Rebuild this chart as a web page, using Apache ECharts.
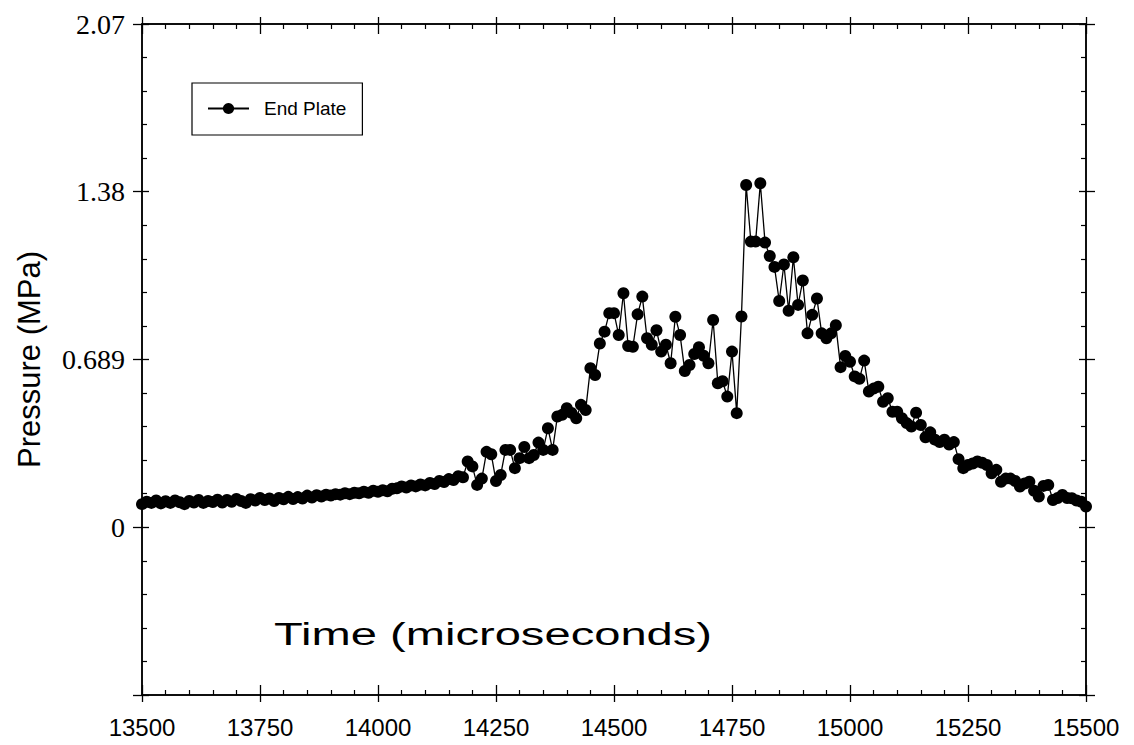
<!DOCTYPE html>
<html>
<head>
<meta charset="utf-8">
<script src="https://cdn.jsdelivr.net/npm/echarts@6/dist/echarts.min.js"></script>
<style>
html,body{margin:0;padding:0;background:#fff;}
#chart{width:1134px;height:745px;}
</style>
</head>
<body>
<div id="chart"></div>
<script>
// ---- data ----
const seriesName = 'End Plate';
const startTime = 13500;   // microseconds
const timeStep = 10;       // sampling step, microseconds
const pressure = [
  0.095,0.105,0.100,0.110,0.098,0.107,0.100,0.110,0.103,0.095,
  0.108,0.102,0.112,0.100,0.108,0.104,0.113,0.102,0.112,0.105,
  0.116,0.108,0.100,0.115,0.110,0.120,0.112,0.118,0.108,0.120,
  0.115,0.125,0.116,0.124,0.118,0.130,0.122,0.132,0.126,0.134,
  0.130,0.136,0.134,0.140,0.136,0.142,0.140,0.146,0.142,0.150,
  0.146,0.152,0.148,0.158,0.160,0.168,0.163,0.172,0.168,0.176,
  0.172,0.182,0.178,0.190,0.186,0.198,0.194,0.210,0.205,0.270,
  0.250,0.174,0.200,0.310,0.300,0.190,0.215,0.318,0.318,0.243,
  0.284,0.330,0.284,0.297,0.348,0.318,0.407,0.318,0.455,0.462,
  0.489,0.470,0.448,0.503,0.482,0.654,0.626,0.755,0.804,0.880,
  0.880,0.790,0.962,0.745,0.742,0.875,0.948,0.777,0.750,0.810,
  0.722,0.750,0.674,0.865,0.790,0.642,0.667,0.712,0.740,0.705,
  0.674,0.852,0.592,0.600,0.537,0.722,0.469,0.866,1.407,1.174,
  1.174,1.414,1.170,1.115,1.070,0.930,1.080,0.890,1.110,0.914,
  1.014,0.797,0.873,0.940,0.797,0.777,0.797,0.830,0.658,0.704,
  0.680,0.620,0.610,0.685,0.558,0.570,0.578,0.516,0.530,0.475,
  0.475,0.448,0.428,0.414,0.471,0.420,0.370,0.390,0.360,0.350,
  0.360,0.340,0.350,0.280,0.243,0.256,0.262,0.270,0.265,0.256,
  0.222,0.236,0.187,0.200,0.200,0.190,0.167,0.180,0.187,0.150,
  0.126,0.170,0.174,0.112,0.120,0.133,0.120,0.119,0.110,0.105,
  0.085
];
const xMin = 13500, xMax = 15500, xStep = 250;
const yStep = 0.6895;                 // 100 psi in MPa
const yMin = -0.6895, yMax = 2.0685;
const yTickLabels = ['', '0', '0.689', '1.38', '2.07'];
const xTitle = 'Time (microseconds)';
const yTitle = 'Pressure (MPa)';

// ---- build ----
const times = pressure.map((_, i) => startTime + timeStep * i);
const points = pressure.map((v, i) => [times[i], v]);

const chart = echarts.init(document.getElementById('chart'), null, {renderer: 'svg'});

const axisLine = {show: true, onZero: false, lineStyle: {color: '#000', width: 1.5}};
function xAx(pos, inside, labels) {
  return {
    type: 'value', position: pos, min: xMin, max: xMax, interval: xStep,
    axisLine: axisLine,
    axisTick: {show: true, inside: inside, length: inside ? 10 : 7, lineStyle: {color: '#000', width: 1.3}},
    minorTick: {show: inside, splitNumber: 5, length: 5, lineStyle: {color: '#000', width: 1.2}},
    splitLine: {show: false}, minorSplitLine: {show: false},
    axisLabel: labels ? {show: true, margin: 20, color: '#000', fontFamily: 'Liberation Sans', fontSize: 24,
      formatter: v => String(Math.round(v))} : {show: false}
  };
}
function yAx(pos, inside, labels) {
  return {
    type: 'value', position: pos, min: yMin, max: yMax, interval: yStep,
    axisLine: axisLine,
    axisTick: {show: true, inside: inside, length: inside ? 7 : 9, lineStyle: {color: '#000', width: 1.3}},
    minorTick: {show: inside, splitNumber: 5, length: 5, lineStyle: {color: '#000', width: 1.2}},
    splitLine: {show: false}, minorSplitLine: {show: false},
    axisLabel: labels ? {
      show: true, margin: 17, color: '#000', fontFamily: 'Liberation Serif', fontSize: 28,
      formatter: v => yTickLabels[Math.round(v / yStep) + 1] || ''
    } : {show: false},
    name: labels ? yTitle : '',
    nameLocation: 'middle', nameGap: 97, nameRotate: 90,
    nameTextStyle: {color: '#000', fontFamily: 'Liberation Sans', fontSize: 31}
  };
}

chart.setOption({
  backgroundColor: '#fff',
  animation: false,
  grid: {left: 142, right: 48, top: 24, bottom: 50, containLabel: false},
  xAxis: [xAx('bottom', false, true), xAx('bottom', true, false), xAx('top', false, false), xAx('top', true, false)],
  yAxis: [yAx('left', false, true), yAx('left', true, false), yAx('right', false, false), yAx('right', true, false)],
  legend: {
    show: true, left: 192, top: 83, orient: 'vertical',
    borderColor: '#000', borderWidth: 1.2, padding: [16, 16, 17, 15],
    itemWidth: 41, itemHeight: 14,
    textStyle: {color: '#000', fontFamily: 'Liberation Sans', fontSize: 19, padding: [0, 0, 0, 10]},
    data: [seriesName]
  },
  graphic: [{
    type: 'text', left: 274, top: 619, scaleX: 1.52,
    style: {text: xTitle, fill: '#000', font: '31px "Liberation Sans"'}
  }],
  series: [{
    name: seriesName, type: 'line', xAxisIndex: 0, yAxisIndex: 0,
    data: points,
    symbol: 'circle', symbolSize: 12, showSymbol: true,
    lineStyle: {color: '#000', width: 1.3},
    itemStyle: {color: '#000'}
  }]
});
</script>
</body>
</html>
